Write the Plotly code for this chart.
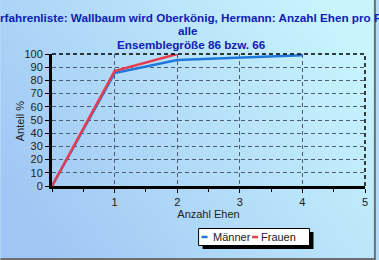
import base64
import plotly.graph_objects as go

# ---- data ----
anzahl_ehen = [0, 1, 2, 3, 4]
maenner = [0, 85.5, 95.5, 97.5, 99]
frauen_x = [0, 1, 2]
frauen = [0, 87, 100]
x_ticks = [1, 2, 3, 4, 5]
y_ticks = list(range(0, 101, 10))
title_lines = [
    "Vorfahrenliste: Wallbaum wird Oberkönig, Hermann: Anzahl Ehen pro Person",
    "alle",
    "Ensemblegröße 86 bzw. 66",
]
series_names = ["Männer", "Frauen"]

W, H = 379, 260
L, R, T, B = 52, 11, 54, 74
PW, PH = W - L - R, H - T - B


def px(x):
    return (x - L) / PW


def py(y):
    return (H - B - y) / PH


svg = f'''<svg xmlns="http://www.w3.org/2000/svg" width="{W}" height="{H}" viewBox="0 0 {W} {H}" preserveAspectRatio="none">
<defs><linearGradient id="g" x1="0" y1="0.75" x2="1" y2="0.25">
<stop offset="0" stop-color="#9fc6f4"/><stop offset="1" stop-color="#c8f5fd"/></linearGradient></defs>
<rect x="0" y="0" width="{W}" height="{H}" fill="url(#g)"/>
</svg>'''
src = "data:image/svg+xml;base64," + base64.b64encode(svg.encode()).decode()

BLUE = "#1e78dc"
RED = "#e83c50"
fig = go.Figure()
fig.add_trace(go.Scatter(x=anzahl_ehen, y=maenner, mode="lines", name=series_names[0],
                         line=dict(color=BLUE, width=2.5), showlegend=False))
fig.add_trace(go.Scatter(x=frauen_x, y=frauen, mode="lines", name=series_names[1],
                         line=dict(color=RED, width=2.5), showlegend=False))

tickfont = dict(family="Liberation Sans, Arial", size=11, color="#222")
grid = dict(showgrid=True, gridcolor="#4e5e70", gridwidth=1, griddash="4px,3px")
fig.update_xaxes(range=[0, 5], tickvals=x_ticks, ticks="outside", ticklen=4, tickcolor="black",
                 showline=True, linecolor="black", linewidth=3, zeroline=False,
                 minor=dict(dtick=0.5, ticks="outside", ticklen=3, tickcolor="black", showgrid=False),
                 tickfont=tickfont, title=dict(text="Anzahl Ehen", font=tickfont, standoff=3), **grid)
fig.update_yaxes(range=[0, 100], tickvals=y_ticks, ticks="outside", ticklen=4, tickcolor="black",
                 showline=True, linecolor="black", linewidth=3, zeroline=False,
                 tickfont=tickfont, **grid)

shapes = [
    # dashed top/right plot border
    dict(type="line", xref="paper", yref="paper", x0=0, x1=1, y0=1, y1=1,
         line=dict(color="black", width=1.5, dash="4px,3px")),
    dict(type="line", xref="paper", yref="paper", x0=1, x1=1, y0=0, y1=1,
         line=dict(color="black", width=1.5, dash="4px,3px")),
    # legend shadow and box
    dict(type="rect", xref="paper", yref="paper", x0=px(204), x1=px(316), y0=py(249), y1=py(232),
         fillcolor="black", line=dict(width=0)),
    dict(type="rect", xref="paper", yref="paper", x0=px(200), x1=px(312), y0=py(245.5), y1=py(228.5),
         fillcolor="white", line=dict(color="black", width=1)),
    dict(type="line", xref="paper", yref="paper", x0=px(203), x1=px(209), y0=py(237), y1=py(237),
         line=dict(color=BLUE, width=2.5)),
    dict(type="line", xref="paper", yref="paper", x0=px(254), x1=px(260), y0=py(237), y1=py(237),
         line=dict(color=RED, width=2.5)),
    # figure border right/bottom
    dict(type="line", xref="paper", yref="paper", x0=px(378), x1=px(378), y0=py(0), y1=py(260),
         line=dict(color="#6e6e6e", width=2)),
    dict(type="line", xref="paper", yref="paper", x0=px(0), x1=px(379), y0=py(259), y1=py(259),
         line=dict(color="#6e6e6e", width=2)),
]

titlefont = dict(family="Liberation Sans, Arial", size=11.7, color="#1020b4", weight="bold")
annotations = [
    dict(text=title_lines[0], x=px(201), y=py(17), xref="paper", yref="paper", showarrow=False,
         xanchor="center", yanchor="middle", font=titlefont),
    dict(text=title_lines[1], x=px(189), y=py(31), xref="paper", yref="paper", showarrow=False,
         xanchor="center", yanchor="middle", font=titlefont),
    dict(text=title_lines[2], x=px(193), y=py(44), xref="paper", yref="paper", showarrow=False,
         xanchor="center", yanchor="middle", font=titlefont),
    dict(text="Anteil %", x=px(20), y=py(121), xref="paper", yref="paper", showarrow=False,
         xanchor="center", yanchor="middle", textangle=-90, font=tickfont),
    dict(text=series_names[0], x=px(213), y=py(237), xref="paper", yref="paper", showarrow=False,
         xanchor="left", yanchor="middle", font=tickfont),
    dict(text=series_names[1], x=px(261), y=py(237), xref="paper", yref="paper", showarrow=False,
         xanchor="left", yanchor="middle", font=tickfont),
]

fig.update_layout(
    width=W, height=H, margin=dict(l=L, r=R, t=T, b=B),
    paper_bgcolor="#b4dcf8", plot_bgcolor="rgba(0,0,0,0)",
    shapes=shapes, annotations=annotations, showlegend=False,
    images=[dict(source=src, xref="paper", yref="paper", x=px(0), y=py(0),
                 sizex=W / PW, sizey=H / PH, xanchor="left", yanchor="top",
                 sizing="stretch", layer="below")],
)
fig.write_html("out.html")
